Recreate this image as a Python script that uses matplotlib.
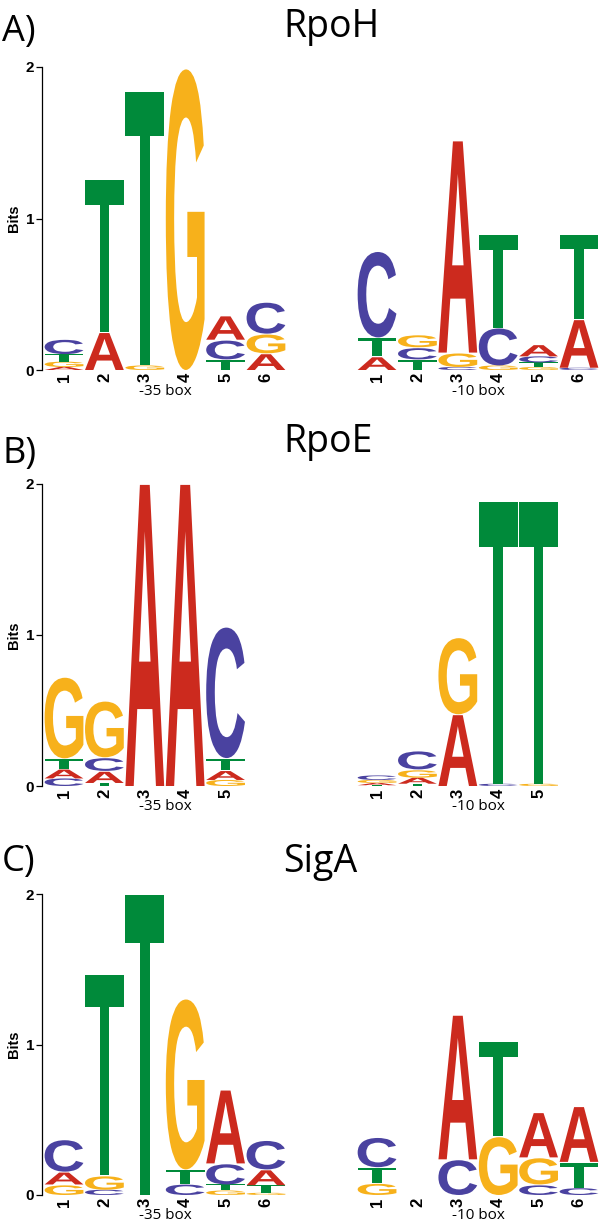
import matplotlib
matplotlib.use('Agg')
import matplotlib.pyplot as plt
from matplotlib.textpath import TextPath
from matplotlib.patches import PathPatch
from matplotlib.font_manager import FontProperties
from matplotlib.transforms import Affine2D

# --- data: bits per base at each position ---
rpoh35_A = [0.020, 0.25, 0.00, 0.00, 0.16, 0.11]
rpoh35_C = [0.100, 0.00, 0.00, 0.00, 0.13, 0.21]
rpoh35_G = [0.035, 0.00, 0.03, 1.99, 0.00, 0.13]
rpoh35_T = [0.050, 1.01, 1.81, 0.00, 0.07, 0.00]

rpoh10_A = [0.090, 0.000, 1.400, 0.00, 0.08, 0.320]
rpoh10_C = [0.570, 0.080, 0.020, 0.25, 0.04, 0.015]
rpoh10_G = [0.000, 0.085, 0.095, 0.03, 0.02, 0.000]
rpoh10_T = [0.125, 0.070, 0.000, 0.62, 0.03, 0.560]

rpoe35_A = [0.065, 0.080, 2.0, 2.0, 0.065]
rpoe35_C = [0.050, 0.090, 0.0, 0.0, 0.870]
rpoe35_G = [0.540, 0.375, 0.0, 0.0, 0.040]
rpoe35_T = [0.068, 0.020, 0.0, 0.0, 0.080]

rpoe10_A = [0.015, 0.040, 0.475, 0.000, 0.000]
rpoe10_C = [0.030, 0.125, 0.000, 0.015, 0.000]
rpoe10_G = [0.020, 0.055, 0.510, 0.000, 0.015]
rpoe10_T = [0.005, 0.015, 0.000, 1.875, 1.875]

siga35_A = [0.085, 0.000, 0.0, 0.000, 0.49, 0.105]
siga35_C = [0.215, 0.035, 0.0, 0.075, 0.14, 0.195]
siga35_G = [0.070, 0.095, 0.0, 1.135, 0.03, 0.015]
siga35_T = [0.000, 1.340, 2.0, 0.095, 0.04, 0.050]

siga10_A = [0.000, 0.0, 0.960, 0.000, 0.30, 0.370]
siga10_C = [0.200, 0.0, 0.237, 0.000, 0.07, 0.045]
siga10_G = [0.080, 0.0, 0.000, 0.390, 0.18, 0.000]
siga10_T = [0.105, 0.0, 0.000, 0.635, 0.00, 0.175]

panel_tags = ['A)', 'B)', 'C)']
panel_titles = ['RpoH', 'RpoE', 'SigA']
box_labels = ['-35 box', '-10 box']

colors = {'A': '#cc2a1e', 'C': '#4a42a0', 'G': '#f7b11b', 'T': '#008a3a'}
glyph_font = FontProperties(family='Liberation Sans', weight='bold')

W, H = 600, 1228
RIGHT_START = 8.75   # x of first position of the -10 logo
GAP = 0.006          # thin white line between stacked letters


def fy(px):
    return 1 - px / H


def draw_letter(ax, ch, x, y0, h, w=0.96):
    tp = TextPath((0, 0), ch, size=1, prop=glyph_font)
    bb = tp.get_extents()
    if h > 0.05:
        h = h - GAP
    tr = (Affine2D().translate(-bb.x0, -bb.y0)
          .scale(w / bb.width, h / bb.height)
          .translate(x - w / 2, y0))
    ax.add_patch(PathPatch(tr.transform_path(tp), fc=colors[ch], lw=0,
                           clip_on=False))


def draw_logo(ax, x0, A, C, G, T):
    cols = {'A': A, 'C': C, 'G': G, 'T': T}
    for i in range(len(A)):
        stack = sorted((cols[b][i], b) for b in 'ACGT' if cols[b][i] > 0)
        y = 0
        for h, b in stack:
            draw_letter(ax, b, x0 + i, y, h)
            y += h


fig = plt.figure(figsize=(W / 100, H / 100), dpi=100)

# (zero px, two-bit px, tag baseline, title baseline)
layout = [(370, 67, 41, 37), (786, 484, 463, 452), (1195, 894, 871, 872)]
logos = [
    ((rpoh35_A, rpoh35_C, rpoh35_G, rpoh35_T), (rpoh10_A, rpoh10_C, rpoh10_G, rpoh10_T)),
    ((rpoe35_A, rpoe35_C, rpoe35_G, rpoe35_T), (rpoe10_A, rpoe10_C, rpoe10_G, rpoe10_T)),
    ((siga35_A, siga35_C, siga35_G, siga35_T), (siga10_A, siga10_C, siga10_G, siga10_T)),
]

for k in range(3):
    y0, y2, tag_b, title_b = layout[k]
    left, right = logos[k]
    ax = fig.add_axes([42 / W, fy(y0), 558 / W, (y0 - y2) / H])
    ax.set_xlim(0.455, 14.27)
    ax.set_ylim(0, 2)
    for s in ['top', 'right', 'bottom']:
        ax.spines[s].set_visible(False)
    ax.spines['left'].set_linewidth(0.9)

    draw_logo(ax, 1, *left)
    draw_logo(ax, RIGHT_START, *right)

    nl, nr = len(left[0]), len(right[0])
    xt = list(range(1, nl + 1)) + [RIGHT_START + i for i in range(nr)]
    xl = [str(i + 1) for i in range(nl)] + [str(i + 1) for i in range(nr)]
    ax.set_xticks(xt)
    ax.set_xticklabels(xl, rotation=90, fontweight='bold', fontsize=12,
                       family='Liberation Sans')
    ax.tick_params(axis='x', length=0, pad=2)
    ax.set_yticks([0, 1, 2])
    ax.set_yticklabels(['0', '1', '2'], fontweight='bold', fontsize=11,
                       family='Liberation Sans')
    ax.tick_params(axis='y', length=4.5, width=0.9, pad=1)

    ax.text(3.5, -0.139, box_labels[0], ha='center', va='center',
            fontsize=11, family='Open Sans')
    ax.text(RIGHT_START + 2.5, -0.139, box_labels[1], ha='center',
            va='center', fontsize=11, family='Open Sans')

    fig.text(14 / W, fy((y0 + y2) / 2), 'Bits', rotation=90, ha='center',
             va='center', fontsize=10.5, fontweight='bold',
             family='Liberation Sans')
    fig.text(2 / W, fy(tag_b), panel_tags[k], ha='left', va='baseline',
             fontsize=26, family='Open Sans')
    fig.text(283 / W, fy(title_b), panel_titles[k], ha='left',
             va='baseline', fontsize=27, family='Open Sans')

fig.savefig('out.png', dpi=100)
